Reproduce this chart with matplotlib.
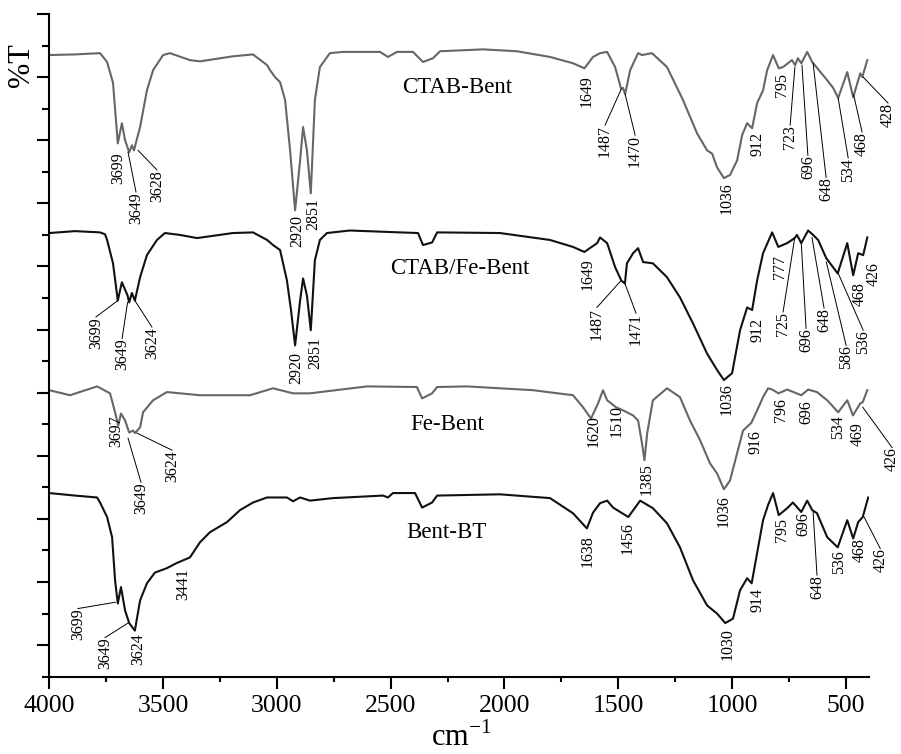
import numpy as np
import matplotlib
matplotlib.use('Agg')
import matplotlib.pyplot as plt

plt.rcParams['font.family'] = 'Liberation Serif'
plt.rcParams['mathtext.fontset'] = 'custom'
plt.rcParams['mathtext.rm'] = 'Liberation Serif'

# ---- spectra (wavenumber, %T with vertical offsets) ----
ctab_wn = [4000, 3887, 3777, 3746, 3720, 3699, 3681, 3667, 3649, 3637, 3628, 3601, 3571, 3544, 3500,
           3470, 3382, 3338, 3193, 3105, 3043, 3030, 3008, 2986, 2964, 2942, 2920, 2898, 2885, 2868,
           2851, 2833, 2811, 2767, 2710, 2547, 2512, 2472, 2402, 2358, 2314, 2283, 2094, 1945, 1800,
           1699, 1649, 1611, 1580, 1549, 1514, 1487, 1479, 1470, 1448, 1413, 1396, 1352, 1286, 1216,
           1154, 1110, 1088, 1066, 1036, 1009, 978, 956, 934, 912, 890, 864, 846, 820, 795,
           776, 737, 723, 711, 696, 670, 648, 582, 556, 534, 494, 468, 437, 428, 406]
ctab_t = [98.5, 98.6, 98.8, 97.4, 94.1, 84.5, 87.7, 85.0, 83.1, 84.2, 83.4, 87.1, 92.9, 96.1, 98.5,
          98.8, 97.7, 97.5, 98.3, 98.6, 96.9, 96.1, 95.0, 94.2, 91.4, 83.4, 73.9, 81.8, 87.1, 83.4,
          76.6, 91.4, 96.6, 98.8, 99.0, 99.0, 98.2, 99.0, 99.0, 97.4, 98.0, 99.1, 99.4, 99.1, 98.2,
          97.2, 96.4, 98.2, 98.8, 99.0, 96.6, 93.1, 93.3, 92.3, 96.1, 98.8, 98.5, 98.8, 96.6, 91.4,
          86.1, 83.4, 82.9, 80.7, 79.0, 79.5, 81.8, 85.8, 87.7, 86.9, 90.9, 92.9, 96.1, 98.5, 96.4,
          96.6, 97.7, 96.9, 98.0, 97.2, 99.0, 97.4, 94.5, 93.3, 91.7, 95.8, 91.8, 95.6, 95.0, 97.7]

fectab_wn = [4000, 3887, 3777, 3755, 3746, 3720, 3699, 3681, 3656, 3649, 3637, 3624, 3601, 3571, 3527,
             3492, 3426, 3351, 3193, 3105, 3043, 3017, 2986, 2956, 2938, 2920, 2898, 2885, 2868, 2851,
             2833, 2811, 2780, 2679, 2459, 2380, 2358, 2318, 2296, 2020, 1800, 1699, 1649, 1593, 1580,
             1549, 1514, 1487, 1471, 1462, 1435, 1413, 1391, 1348, 1286, 1229, 1172, 1110, 1066, 1036,
             1000, 965, 934, 912, 890, 864, 824, 797, 758, 725, 715, 696, 666, 644, 622,
             586, 536, 494, 468, 446, 424, 406]
fectab_t = [70.3, 70.6, 70.4, 70.1, 69.2, 65.5, 59.6, 62.5, 60.4, 59.3, 60.8, 59.6, 63.3, 66.8, 69.2,
            70.3, 70.0, 69.5, 70.3, 70.4, 69.2, 68.4, 67.6, 62.8, 58.1, 52.5, 59.6, 63.1, 60.4, 54.9,
            66.0, 69.2, 70.3, 70.7, 70.4, 70.3, 68.4, 68.8, 70.4, 70.3, 69.2, 68.1, 67.3, 68.7, 69.6,
            68.7, 64.9, 62.8, 62.3, 65.5, 67.1, 67.9, 65.7, 65.5, 63.3, 60.1, 56.0, 51.2, 48.6, 47.0,
            48.1, 54.9, 58.5, 58.1, 62.8, 67.1, 70.4, 68.1, 68.7, 69.5, 70.0, 68.7, 70.7, 70.0, 69.2,
            66.3, 63.9, 68.7, 63.6, 67.1, 66.8, 69.6]

fe_wn = [4000, 3909, 3790, 3733, 3711, 3697, 3685, 3667, 3649, 3632, 3624, 3601, 3588, 3544, 3483,
         3338, 3118, 3017, 2929, 2855, 2604, 2385, 2362, 2318, 2296, 2165, 1875, 1699, 1655, 1620,
         1589, 1567, 1549, 1510, 1479, 1435, 1413, 1396, 1385, 1373, 1348, 1286, 1229, 1185, 1141,
         1097, 1066, 1036, 1009, 978, 952, 916, 890, 864, 842, 824, 796, 758, 696, 666,
         627, 582, 534, 494, 469, 437, 426, 406]
fe_t = [45.4, 44.6, 46.0, 44.9, 41.9, 39.8, 41.7, 40.6, 38.7, 39.0, 38.6, 39.5, 41.9, 43.8, 45.1,
        44.6, 44.6, 45.7, 44.9, 44.9, 46.0, 45.9, 44.1, 44.9, 45.9, 46.0, 45.4, 44.6, 42.7, 40.9,
        43.3, 45.4, 43.8, 42.7, 42.2, 41.4, 40.6, 37.0, 34.3, 38.6, 43.8, 45.7, 44.3, 40.6, 37.5,
        33.8, 32.2, 29.7, 31.1, 35.4, 39.0, 40.2, 42.2, 44.3, 45.7, 45.5, 44.9, 45.5, 44.6, 45.5,
        45.1, 43.8, 41.9, 43.8, 41.4, 43.3, 43.5, 45.4]

bt_wn = [4000, 3887, 3790, 3777, 3746, 3724, 3711, 3699, 3685, 3667, 3649, 3624, 3601, 3571, 3536,
         3483, 3441, 3382, 3338, 3294, 3219, 3162, 3105, 3043, 2956, 2929, 2898, 2855, 2753, 2534,
         2512, 2490, 2393, 2362, 2318, 2296, 2020, 1800, 1699, 1638, 1611, 1580, 1549, 1523, 1456,
         1404, 1348, 1286, 1229, 1172, 1110, 1066, 1030, 996, 965, 934, 914, 890, 864, 842,
         820, 795, 758, 733, 696, 670, 648, 627, 582, 536, 494, 468, 446, 426, 402]
bt_t = [29.1, 28.7, 28.4, 27.6, 25.3, 22.1, 15.3, 11.6, 14.2, 10.5, 8.5, 7.3, 12.1, 14.8, 16.5,
        17.2, 18.0, 18.9, 21.3, 22.9, 24.5, 26.4, 27.6, 28.4, 28.4, 27.8, 28.4, 27.9, 28.3, 28.7,
        28.4, 29.1, 29.1, 26.8, 27.6, 28.7, 28.9, 28.3, 25.9, 23.5, 26.0, 27.5, 27.9, 26.8, 25.3,
        27.9, 26.7, 24.3, 20.5, 15.3, 11.3, 10.0, 8.5, 9.2, 13.7, 15.6, 14.8, 19.6, 24.8, 27.2,
        29.1, 25.6, 26.7, 27.6, 26.1, 27.9, 26.4, 25.9, 22.1, 20.5, 24.8, 21.9, 24.5, 25.3, 28.4]

# ---- peak labels: text, label position (x, top), leader line start or None ----
ctab_peaks = ['3699', '3649', '3628', '2920', '2851', '1649', '1487', '1470', '1036', '912',
              '795', '723', '696', '648', '534', '468', '428']
ctab_label_pos = [(3698, 83.1), (3619, 76.8), (3527, 80.3), (2912, 73.1), (2841, 75.8), (1637, 95.3),
                  (1558, 87.4), (1426, 85.8), (1026, 78.4), (890, 86.3), (780, 95.6), (745, 87.4),
                  (667, 82.6), (587, 79.1), (490, 82.2), (429, 86.3), (315, 90.9)]
ctab_leaders = [None, (3654, 83.1), (3610, 83.4), None, None, None, (1487, 93.1), (1470, 92.3),
                None, None, None, (724, 96.6), (693, 96.9), (644, 97.2), (534, 91.7), (466, 92.2),
                (424, 95.0)]

fectab_peaks = ['3699', '3649', '3624', '2920', '2851', '1649', '1487', '1471', '1036', '912',
                '777', '725', '696', '648', '586', '536', '468', '426']
fectab_label_pos = [(3795, 57.0), (3680, 53.6), (3549, 55.4), (2916, 51.4), (2833, 53.8), (1633, 66.3),
                    (1594, 58.5), (1422, 57.6), (1022, 46.5), (890, 56.8), (789, 66.8), (776, 57.8),
                    (675, 55.2), (596, 58.4), (499, 52.5), (424, 54.9), (437, 62.5), (376, 65.7)]
fectab_leaders = [(3699, 59.6), (3656, 59.3), (3624, 59.6), None, None, None, (1487, 62.8),
                  (1471, 62.3), None, None, None, (725, 69.5), (696, 68.7), (649, 69.6),
                  (586, 65.7), (536, 64.1), None, None]

fe_peaks = ['3697', '3649', '3624', '1620', '1510', '1385', '1036', '916', '796', '696',
            '534', '469', '426']
fe_label_pos = [(3707, 41.5), (3597, 30.8), (3461, 35.9), (1608, 41.4), (1507, 43.0), (1375, 33.8),
                (1036, 28.8), (899, 39.1), (785, 44.1), (675, 43.8), (534, 41.4), (446, 40.3),
                (297, 36.3)]
fe_leaders = [None, (3654, 37.8), (3615, 38.6), None, None, None, None, None, None, None,
              None, None, (426, 42.7)]

bt_peaks = ['3699', '3649', '3624', '3441', '1638', '1456', '1030', '914', '795', '696',
            '648', '536', '468', '426']
bt_label_pos = [(3874, 10.8), (3755, 6.2), (3610, 6.9), (3413, 17.2), (1633, 22.4), (1457, 24.5),
                (1018, 7.7), (890, 14.0), (780, 25.1), (689, 26.1), (627, 16.1), (529, 20.0),
                (437, 21.9), (349, 20.3)]
bt_leaders = [(3710, 11.8), (3654, 8.5), None, None, None, None, None, None, None, None,
              (644, 26.1), None, None, (420, 25.3)]

sample_names = ['CTAB-Bent', 'CTAB/Fe-Bent', 'Fe-Bent', 'Bent-BT']
name_pos = [(2209, 93.4), (2196, 64.7), (2253, 39.9), (2253, 22.9)]

GRAY = '#666666'
BLACK = '#111111'

fig = plt.figure(figsize=(9.01, 7.54), dpi=100)
ax = fig.add_axes([0.0547, 0.1025, 0.9094, 0.8789])

spectra = [
    (ctab_wn, ctab_t, GRAY, ctab_peaks, ctab_label_pos, ctab_leaders),
    (fectab_wn, fectab_t, BLACK, fectab_peaks, fectab_label_pos, fectab_leaders),
    (fe_wn, fe_t, GRAY, fe_peaks, fe_label_pos, fe_leaders),
    (bt_wn, bt_t, BLACK, bt_peaks, bt_label_pos, bt_leaders),
]

for wn, t, color, peaks, label_pos, leaders in spectra:
    ax.plot(wn, t, color=color, linewidth=1.5, solid_joinstyle='round')
    for txt, (lx, ly), lead in zip(peaks, label_pos, leaders):
        if lead is not None:
            ax.plot([lead[0], lx], [lead[1], ly], color='black', linewidth=0.7, clip_on=False)
        ax.text(lx, ly, txt, rotation=90, ha='center', va='top', fontsize=11.5,
                color='black', clip_on=False)

for name, (nx, ny) in zip(sample_names, name_pos):
    ax.text(nx, ny, name, ha='center', va='center', fontsize=16.5, color='black')

ax.set_xlim(4000, 400)
ax.set_ylim(0, 105)
ax.set_xticks(np.arange(4000, 499, -500))
ax.set_xticks(np.arange(3750, 400, -500), minor=True)
ax.set_yticks(np.arange(5, 106, 10))
ax.set_yticks(np.arange(0, 101, 10), minor=True)
ax.tick_params(axis='y', which='both', labelleft=False, direction='out', width=1.5)
ax.tick_params(axis='y', which='major', length=8.8)
ax.tick_params(axis='y', which='minor', length=4.7)
ax.tick_params(axis='x', which='both', direction='out', width=1.5, labelsize=18.5, pad=5)
ax.tick_params(axis='x', which='major', length=8.4)
ax.tick_params(axis='x', which='minor', length=3.8)

for side in ['top', 'right']:
    ax.spines[side].set_visible(False)
for side in ['left', 'bottom']:
    ax.spines[side].set_linewidth(1.5)

fig.text(22 / 901, 1 - 65 / 754, '%T', rotation=90, ha='center', va='center', fontsize=22)
fig.text(461 / 901, 1 / 754, r'cm$^{\mathregular{-1}}$', ha='center', va='bottom', fontsize=22)

fig.savefig('out.png', dpi=100)
